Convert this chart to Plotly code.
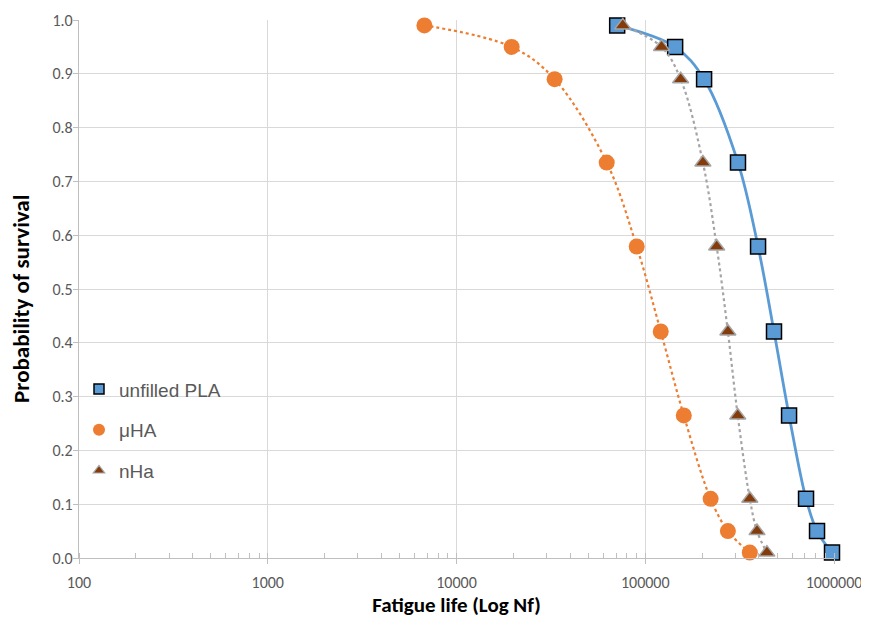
import plotly.graph_objects as go

# ---- data ----
series_names = ["unfilled PLA", "μHA", "nHa"]

pla_life = [71000, 144000, 205000, 310000, 396000, 481000, 578000, 711000, 813000, 976000]
pla_surv = [0.99, 0.95, 0.89, 0.735, 0.579, 0.421, 0.265, 0.11, 0.05, 0.01]

uha_life = [6760, 19600, 33100, 62500, 90100, 120800, 160000, 222000, 274000, 358000]
uha_surv = [0.99, 0.95, 0.89, 0.735, 0.579, 0.421, 0.265, 0.11, 0.05, 0.01]

nha_life = [76000, 122000, 154000, 202000, 239000, 274000, 309000, 358000, 391000, 441000]
nha_surv = [0.99, 0.95, 0.89, 0.735, 0.579, 0.421, 0.265, 0.11, 0.05, 0.01]

x_ticks = [100, 1000, 10000, 100000, 1000000]
x_tick_labels = ["100", "1000", "10000", "100000", "1000000"]
y_ticks = [0.0, 0.1, 0.2, 0.3, 0.4, 0.5, 0.6, 0.7, 0.8, 0.9, 1.0]

x_title = "Fatigue life (Log Nf)"
y_title = "Probability of survival"

BLUE = "#5B9BD5"
ORANGE = "#ED7D31"
GREY = "#A5A5A5"
BROWN = "#843C0C"
GRID = "#D9D9D9"
AXIS = "#BFBFBF"
TXT = "#595959"
FONT = "Calibri, Carlito, 'Liberation Sans', Arial, sans-serif"
LFONT = "'Liberation Sans', Arial, sans-serif"

fig = go.Figure()

# data traces (no legend)
fig.add_trace(go.Scatter(
    x=pla_life, y=pla_surv, mode="lines+markers", showlegend=False,
    line=dict(color=BLUE, width=2.8, shape="spline", smoothing=1.0),
    marker=dict(symbol="square", size=15, color=BLUE, line=dict(color="black", width=1.5)),
    cliponaxis=False, name=series_names[0]))
fig.add_trace(go.Scatter(
    x=uha_life, y=uha_surv, mode="lines+markers", showlegend=False,
    line=dict(color=ORANGE, width=2.2, dash="dot", shape="spline", smoothing=1.0),
    marker=dict(symbol="circle", size=16, color=ORANGE, line=dict(color=ORANGE, width=0)),
    cliponaxis=False, name=series_names[1]))
fig.add_trace(go.Scatter(
    x=nha_life, y=nha_surv, mode="lines+markers", showlegend=False,
    line=dict(color=GREY, width=2.2, dash="dot", shape="spline", smoothing=1.0),
    marker=dict(symbol="triangle-up", size=14, color=BROWN, line=dict(color=GREY, width=1.5)),
    cliponaxis=False, name=series_names[2]))

# legend-only entries (markers only, like the reference legend)
legend_markers = [
    dict(symbol="square", size=10, color=BLUE, line=dict(color="black", width=1.5)),
    dict(symbol="circle", size=12, color=ORANGE, line=dict(width=0)),
    dict(symbol="triangle-up", size=10, color=BROWN, line=dict(color=GREY, width=1.2)),
]
for i, nm in enumerate(series_names):
    fig.add_trace(go.Scatter(
        x=[None], y=[None], mode="markers", name=nm, legendgroup=f"g{i}",
        marker=legend_markers[i], showlegend=True))

# the page body has an 8px margin; size and offset the figure to compensate
fig.update_layout(
    template="none",
    width=861, height=612,
    margin=dict(l=71, r=35, t=12, b=62, autoexpand=False),
    paper_bgcolor="white", plot_bgcolor="white",
    font=dict(family=FONT, color=TXT, size=16),
    legend=dict(
        x=0.0, y=0.349, xanchor="left", yanchor="top",
        bgcolor="rgba(0,0,0,0)", font=dict(family=LFONT, size=19, color=TXT),
        tracegroupgap=13, itemwidth=30, itemsizing="trace",
    ),
    showlegend=True,
    annotations=[
        dict(text="<b>" + y_title + "</b>", textangle=-90, showarrow=False,
             xref="paper", yref="paper", x=0, y=0.5, xanchor="center", yanchor="middle",
             xshift=-58, yshift=-10,
             font=dict(family=FONT, size=23, color="#000000")),
    ],
)

fig.update_xaxes(
    type="log", range=[2, 6], automargin=False,
    tickvals=x_ticks, ticktext=x_tick_labels,
    showgrid=True, gridcolor=GRID, gridwidth=1.3,
    showline=True, linecolor=AXIS, linewidth=1.3,
    ticks="outside", ticklen=5, tickcolor=AXIS, tickwidth=1.3,
    tickfont=dict(family=FONT, size=16, color=TXT),
    ticklabelstandoff=5,
    minor=dict(ticks="inside", ticklen=5, tickcolor=AXIS, tickwidth=1.3,
               dtick="D1", showgrid=False),
    title=dict(text="<b>" + x_title + "</b>", font=dict(family=FONT, size=21, color="#000000"),
               standoff=2),
    zeroline=False,
)
fig.update_yaxes(
    range=[0, 1.0], automargin=False, tickvals=y_ticks, tickformat=".1f",
    showgrid=True, gridcolor=GRID, gridwidth=1.3,
    showline=True, linecolor=AXIS, linewidth=1.3,
    ticks="outside", ticklen=5, tickcolor=AXIS, tickwidth=1.3,
    tickfont=dict(family=FONT, size=16, color=TXT),
    ticklabelstandoff=-3,
    zeroline=False,
)

fig.write_html("out.html")
